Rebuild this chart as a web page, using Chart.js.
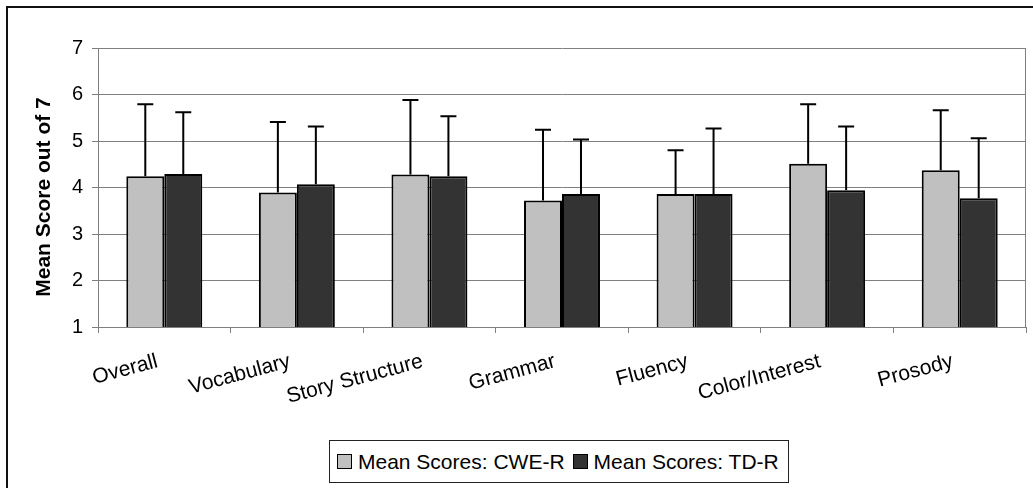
<!DOCTYPE html>
<html>
<head>
<meta charset="utf-8">
<script src="https://cdn.jsdelivr.net/npm/chart.js@4.4.0/dist/chart.umd.min.js"></script>
<style>
  html, body { margin: 0; padding: 0; background: #fff; overflow: hidden; }
  #wrap { position: relative; width: 1033px; height: 488px; overflow: hidden; }
  #frame { position: absolute; left: 6px; top: 6px; width: 1100px; height: 600px; border: 2px solid #111; }
  #chart { position: absolute; left: 0; top: 0; }
  #legend {
    position: absolute; left: 329px; top: 440px; width: 460px; height: 43px;
    box-sizing: border-box; border: 1px solid #222; background: #fff;
    font: 21px "Liberation Sans", Arial, sans-serif; color: #000;
    display: flex; align-items: center;
  }
  #legend .item { display: flex; align-items: center; }
  #legend .swatch { width: 13px; height: 13px; border: 1px solid #000; margin: 0 6px 0 7px; }
  #legend .item + .item .swatch { margin-left: 8px; }
</style>
</head>
<body>
<div id="wrap">
  <div id="frame"></div>
  <canvas id="chart" width="1033" height="488"></canvas>
  <div id="legend"></div>
</div>
<script>
  // values
  const categories = ['Overall', 'Vocabulary', 'Story Structure', 'Grammar', 'Fluency', 'Color/Interest', 'Prosody'];
  const cweMeans = [4.24, 3.89, 4.28, 3.72, 3.86, 4.51, 4.37];
  const tdMeans  = [4.29, 4.07, 4.24, 3.86, 3.86, 3.94, 3.77];
  const cweSD = [1.55, 1.52, 1.60, 1.52, 0.94, 1.28, 1.29];
  const tdSD  = [1.33, 1.24, 1.29, 1.17, 1.41, 1.37, 1.29];
  const yTicks = [1, 2, 3, 4, 5, 6, 7];
  const yTitle = 'Mean Score out of 7';

  const FONT = '"Liberation Sans", Arial, sans-serif';
  const GRID = '#808080';

  // upper error bars only, like the source chart
  const errorBars = {
    id: 'errorBars',
    afterDatasetsDraw(chart) {
      const ctx = chart.ctx;
      const y = chart.scales.y;
      ctx.save();
      ctx.strokeStyle = '#000';
      ctx.lineWidth = 2;
      chart.data.datasets.forEach((ds, i) => {
        const meta = chart.getDatasetMeta(i);
        meta.data.forEach((bar, j) => {
          const top = y.getPixelForValue(ds.data[j] + ds.errors[j]);
          ctx.beginPath();
          ctx.moveTo(bar.x, bar.y);
          ctx.lineTo(bar.x, top);
          ctx.moveTo(bar.x - 8, top);
          ctx.lineTo(bar.x + 8, top);
          ctx.stroke();
        });
      });
      ctx.restore();
    }
  };

  // right edge of the plot area + the y axis title (drawn a bit lower than chart.js would)
  const frameBits = {
    id: 'frameBits',
    beforeDatasetsDraw(chart) {
      const {ctx, chartArea} = chart;
      ctx.save();
      ctx.strokeStyle = GRID;
      ctx.lineWidth = 1;
      ctx.beginPath();
      ctx.moveTo(chartArea.right - 0.5, chartArea.top);
      ctx.lineTo(chartArea.right - 0.5, chartArea.bottom);
      ctx.stroke();
      ctx.restore();
    },
    afterDraw(chart) {
      const ctx = chart.ctx;
      ctx.save();
      ctx.translate(44, 197);
      ctx.rotate(-Math.PI / 2);
      ctx.font = 'bold 21px ' + FONT;
      ctx.fillStyle = '#000';
      ctx.textAlign = 'center';
      ctx.textBaseline = 'middle';
      ctx.fillText(yTitle, 0, 0);
      ctx.restore();
    }
  };

  const chart = new Chart(document.getElementById('chart'), {
    type: 'bar',
    data: {
      labels: categories,
      datasets: [
        {
          label: 'Mean Scores: CWE-R',
          data: cweMeans,
          errors: cweSD,
          backgroundColor: '#c0c0c0',
          borderColor: '#000',
          borderWidth: 2,
          borderSkipped: false
        },
        {
          label: 'Mean Scores: TD-R',
          data: tdMeans,
          errors: tdSD,
          backgroundColor: '#333333',
          borderColor: '#000',
          borderWidth: 2,
          borderSkipped: false
        }
      ]
    },
    options: {
      responsive: false,
      animation: false,
      categoryPercentage: 0.573,
      barPercentage: 1,
      layout: { padding: { top: 48, right: 7, left: 0, bottom: 0 } },
      scales: {
        x: {
          grid: { display: true, drawOnChartArea: false, drawTicks: true, tickLength: 6, color: GRID, offset: true },
          border: { color: GRID, width: 1 },
          ticks: {
            color: '#000', font: { family: FONT, size: 21 },
            minRotation: 15, maxRotation: 15, autoSkip: false, padding: 16, labelOffset: -7
          },
          afterFit(scale) { scale.height = 161; }
        },
        y: {
          min: 1, max: 7,
          afterBuildTicks(scale) { scale.ticks = yTicks.map(v => ({ value: v })); },
          grid: { color: GRID, tickLength: 6 },
          border: { color: GRID, width: 1 },
          ticks: { color: '#000', font: { family: FONT, size: 20 }, padding: 9 },
          title: { display: false },
          afterFit(scale) { scale.width = 98; }
        }
      },
      plugins: {
        legend: { display: false },
        tooltip: { enabled: false }
      }
    },
    plugins: [frameBits, errorBars]
  });

  // legend as html so the framed box matches the original
  const legend = document.getElementById('legend');
  chart.data.datasets.forEach(ds => {
    const item = document.createElement('span');
    item.className = 'item';
    const sw = document.createElement('span');
    sw.className = 'swatch';
    sw.style.background = ds.backgroundColor;
    const txt = document.createElement('span');
    txt.textContent = ds.label;
    item.appendChild(sw);
    item.appendChild(txt);
    legend.appendChild(item);
  });
</script>
</body>
</html>
